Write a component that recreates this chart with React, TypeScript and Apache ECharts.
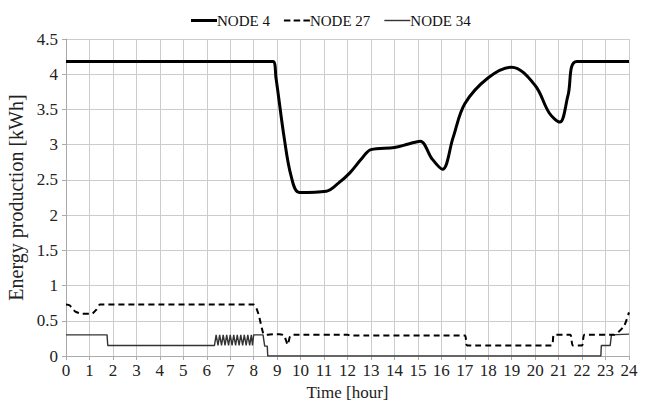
import React, { useEffect, useRef } from "react";
import * as echarts from "echarts";

const seriesNames = ["NODE 4", "NODE 27", "NODE 34"];
const xTicks = [0, 24, 1];
const yTicks = [0, 4.5, 0.5];

const node4: [number, number][] = [
  [0, 4.18], [8.82, 4.18], [8.95, 3.95], [9.3, 3.1], [9.6, 2.55], [9.95, 2.32],
  [11.1, 2.34], [11.6, 2.45], [12.1, 2.6], [12.6, 2.8], [13.0, 2.93],
  [14.0, 2.96], [14.6, 3.01], [15.1, 3.05], [15.6, 2.8], [16.05, 2.65],
  [16.5, 3.1], [17.0, 3.58], [18.0, 3.95], [19.0, 4.1],
  [20.0, 3.84], [20.6, 3.45], [21.05, 3.32], [21.4, 3.7],
  [21.77, 4.18], [24, 4.18],
];

const node27: [number, number][] = [
  [0, 0.73], [0.15, 0.72], [0.4, 0.63], [0.7, 0.6], [1.1, 0.6], [1.3, 0.66], [1.45, 0.73],
  [8.0, 0.73], [8.2, 0.6], [8.4, 0.33], [8.5, 0.3], [8.9, 0.31], [9.1, 0.31], [9.3, 0.29],
  [9.45, 0.16], [9.55, 0.28], [9.7, 0.3], [12.0, 0.3], [12.2, 0.29], [17.0, 0.29],
  [17.1, 0.15], [20.7, 0.15], [20.8, 0.3], [21.5, 0.3], [21.6, 0.15], [22.0, 0.15],
  [22.1, 0.3], [23.35, 0.3], [23.55, 0.34], [23.8, 0.43], [24.0, 0.62],
];

const node34: [number, number][] = [
  [0, 0.3], [1.75, 0.3], [1.78, 0.15], [6.33, 0.15],
  [6.4, 0.3], [6.48, 0.15], [6.55, 0.3], [6.63, 0.15], [6.7, 0.3], [6.78, 0.15],
  [6.85, 0.3], [6.93, 0.15], [7.0, 0.3], [7.08, 0.15], [7.15, 0.3], [7.23, 0.15],
  [7.3, 0.3], [7.38, 0.15], [7.45, 0.3], [7.53, 0.15], [7.6, 0.3], [7.68, 0.15],
  [7.75, 0.3], [7.83, 0.15], [7.9, 0.3], [7.95, 0.15], [8.0, 0.3], [8.4, 0.3],
  [8.47, 0.14], [8.58, 0.14], [8.6, 0], [22.8, 0], [22.82, 0.15], [23.2, 0.15],
  [23.25, 0.3], [24, 0.31],
];

const FONT = "Liberation Serif";

export default function App() {
  const ref = useRef<HTMLDivElement>(null);
  useEffect(() => {
    const chart = echarts.init(ref.current!, null, { renderer: "svg" });
    chart.setOption({
      animation: false,
      backgroundColor: "#fff",
      textStyle: { fontFamily: FONT },
      legend: {
        left: 191,
        top: 13,
        padding: 0,
        itemWidth: 26,
        itemHeight: 14,
        itemGap: 14,
        textStyle: { fontFamily: FONT, fontSize: 15, color: "#111", padding: [0, 0, 0, -5] },
        data: [
          { name: seriesNames[0], icon: "path://M0,5.5 L26,5.5 L26,8.5 L0,8.5 Z", itemStyle: { color: "#000" } },
          { name: seriesNames[1], icon: "path://M0,6 L6,6 L6,8 L0,8 Z M9,6 L15,6 L15,8 L9,8 Z M18,6 L24,6 L24,8 L18,8 Z", itemStyle: { color: "#000" } },
          { name: seriesNames[2], icon: "path://M0,6.3 L26,6.3 L26,7.7 L0,7.7 Z", itemStyle: { color: "#333" } },
        ],
      },
      grid: { left: 66, right: 16, top: 39, bottom: 48, containLabel: false, outerBoundsMode: "none" },
      xAxis: {
        type: "value",
        min: xTicks[0],
        max: xTicks[1],
        interval: xTicks[2],
        name: "Time [hour]",
        nameLocation: "middle",
        nameGap: 28,
        nameTextStyle: { fontFamily: FONT, fontSize: 17, color: "#222" },
        axisLine: { show: true, lineStyle: { color: "#aaa", width: 1 } },
        axisTick: { show: true, length: 4, lineStyle: { color: "#aaa" } },
        axisLabel: { fontFamily: FONT, fontSize: 17, color: "#222", margin: 6 },
        splitLine: { show: true, lineStyle: { color: "#ccc", width: 1 } },
      },
      yAxis: {
        type: "value",
        min: yTicks[0],
        max: yTicks[1],
        interval: yTicks[2],
        name: "Energy production [kWh]",
        nameLocation: "middle",
        nameGap: 32,
        nameTextStyle: { fontFamily: FONT, fontSize: 20, color: "#222" },
        axisLine: { show: true, lineStyle: { color: "#aaa", width: 1 } },
        axisTick: { show: true, length: 4, lineStyle: { color: "#aaa" } },
        axisLabel: { fontFamily: FONT, fontSize: 17, color: "#222", margin: 8 },
        splitLine: { show: true, lineStyle: { color: "#ccc", width: 1 } },
      },
      series: [
        {
          name: seriesNames[0],
          type: "line",
          data: node4,
          showSymbol: false,
          smooth: 0.35,
          lineStyle: { color: "#000", width: 3 },
          itemStyle: { color: "#000" },
          z: 3,
        },
        {
          name: seriesNames[1],
          type: "line",
          data: node27,
          showSymbol: false,
          smooth: 0.2,
          lineStyle: { color: "#000", width: 2, type: [6, 4] },
          itemStyle: { color: "#000" },
          z: 2,
        },
        {
          name: seriesNames[2],
          type: "line",
          data: node34,
          showSymbol: false,
          lineStyle: { color: "#333", width: 1.4 },
          itemStyle: { color: "#333" },
          z: 1,
        },
      ],
    });
    return () => chart.dispose();
  }, []);
  return <div ref={ref} style={{ width: 645, height: 404, position: "fixed", left: 0, top: 0 }} />;
}
